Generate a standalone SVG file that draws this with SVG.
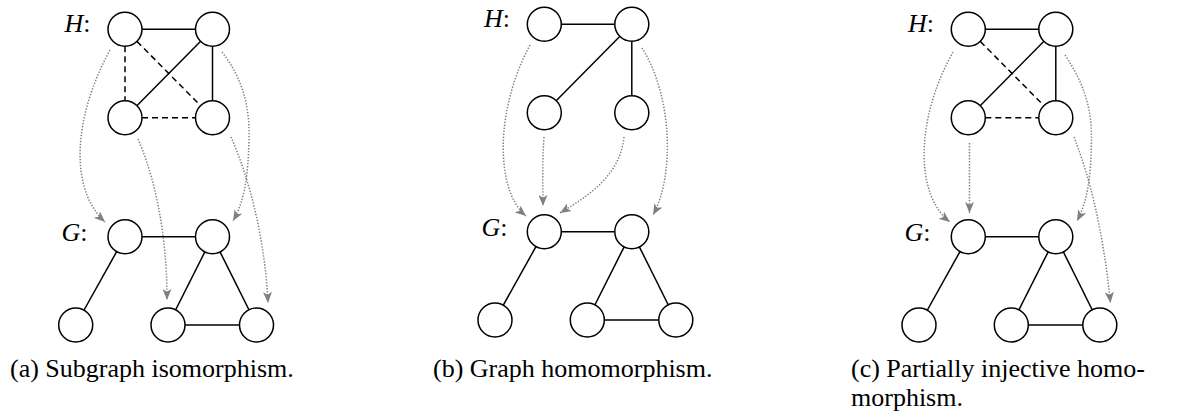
<svg xmlns="http://www.w3.org/2000/svg" width="1180" height="419" viewBox="0 0 1180 419">
<style>
.nd{fill:#fff;stroke:#000;stroke-width:1.5}
.e{stroke:#000;stroke-width:1.5;fill:none}
.d{stroke:#000;stroke-width:1.5;fill:none;stroke-dasharray:6 4}
.m{stroke:#808080;stroke-width:1.5;fill:none;stroke-dasharray:1.4 1.6}
</style>
<defs>
<marker id="ah" markerUnits="userSpaceOnUse" viewBox="0 0 11 9" refX="11" refY="4.5" markerWidth="11" markerHeight="9" orient="auto">
<path d="M0,0 L11,4.5 L0,9 L2.8,4.5 Z" fill="#808080"/>
</marker>
</defs>

<g id="connectors">
<!-- panel a edges -->
<line class="e" x1="125" y1="29.3" x2="212.5" y2="29.3"/>
<line class="e" x1="212.5" y1="29.3" x2="125" y2="117.7"/>
<line class="e" x1="212.5" y1="29.3" x2="212.5" y2="117.7"/>
<line class="d" x1="125" y1="46.3" x2="125" y2="100.7"/>
<line class="d" x1="137" y1="41.4" x2="200.5" y2="105.6"/>
<line class="d" x1="142" y1="117.7" x2="195.5" y2="117.7"/>
<line class="e" x1="125" y1="236.7" x2="212.5" y2="236.7"/>
<line class="e" x1="125" y1="236.7" x2="75.7" y2="325"/>
<line class="e" x1="212.5" y1="236.7" x2="168" y2="325"/>
<line class="e" x1="212.5" y1="236.7" x2="256.5" y2="325"/>
<line class="e" x1="168" y1="325" x2="256.5" y2="325"/>
<!-- panel a mappings -->
<path class="m" marker-end="url(#ah)" d="M110,50 C72,120 70,190 105,222"/>
<path class="m" marker-end="url(#ah)" d="M138,139 C160,190 167,250 167,300"/>
<path class="m" marker-end="url(#ah)" d="M222,52 C244,80 250,110 249,140 C248,175 245,200 233,221"/>
<path class="m" marker-end="url(#ah)" d="M231,137 C250,180 265,240 268,303"/>

<!-- panel b edges -->
<line class="e" x1="544.3" y1="24.3" x2="631.8" y2="24.3"/>
<line class="e" x1="631.8" y1="24.3" x2="544.3" y2="112.7"/>
<line class="e" x1="631.8" y1="24.3" x2="631.8" y2="112.7"/>
<line class="e" x1="544.3" y1="231.7" x2="631.8" y2="231.7"/>
<line class="e" x1="544.3" y1="231.7" x2="495" y2="320"/>
<line class="e" x1="631.8" y1="231.7" x2="587.3" y2="320"/>
<line class="e" x1="631.8" y1="231.7" x2="675.8" y2="320"/>
<line class="e" x1="587.3" y1="320" x2="675.8" y2="320"/>
<!-- panel b mappings -->
<path class="m" marker-end="url(#ah)" d="M530,45 C495,110 495,190 526,216"/>
<path class="m" marker-end="url(#ah)" d="M544,137 C542,165 543,185 543,206"/>
<path class="m" marker-end="url(#ah)" d="M624,137 C620,175 590,195 560,213"/>
<path class="m" marker-end="url(#ah)" d="M642,48 C672,95 675,175 653,215"/>

<!-- panel c edges -->
<line class="e" x1="968.3" y1="29.3" x2="1055.8" y2="29.3"/>
<line class="e" x1="1055.8" y1="29.3" x2="968.3" y2="117.7"/>
<line class="e" x1="1055.8" y1="29.3" x2="1055.8" y2="117.7"/>
<line class="d" x1="980.3" y1="41.4" x2="1043.8" y2="105.6"/>
<line class="d" x1="985.3" y1="117.7" x2="1038.8" y2="117.7"/>
<line class="e" x1="968.3" y1="236.7" x2="1055.8" y2="236.7"/>
<line class="e" x1="968.3" y1="236.7" x2="919" y2="325"/>
<line class="e" x1="1055.8" y1="236.7" x2="1011.3" y2="325"/>
<line class="e" x1="1055.8" y1="236.7" x2="1099.8" y2="325"/>
<line class="e" x1="1011.3" y1="325" x2="1099.8" y2="325"/>
<!-- panel c mappings -->
<path class="m" marker-end="url(#ah)" d="M953,52 C915,120 915,195 950,222"/>
<path class="m" marker-end="url(#ah)" d="M969.5,143 L969.5,213"/>
<path class="m" marker-end="url(#ah)" d="M1065,55 C1085,85 1092,110 1091.5,140 C1091,175 1088,200 1077,221"/>
<path class="m" marker-end="url(#ah)" d="M1074,137 C1090,178 1103,230 1110.5,303"/>
</g>

<!-- panel a nodes -->
<g id="a-h1"><circle class="nd" cx="125" cy="29.3" r="17"/></g>
<g id="a-h2"><circle class="nd" cx="212.5" cy="29.3" r="17"/></g>
<g id="a-h3"><circle class="nd" cx="125" cy="117.7" r="17"/></g>
<g id="a-h4"><circle class="nd" cx="212.5" cy="117.7" r="17"/></g>
<g id="a-g1"><circle class="nd" cx="125" cy="236.7" r="17"/></g>
<g id="a-g2"><circle class="nd" cx="212.5" cy="236.7" r="17"/></g>
<g id="a-g3"><circle class="nd" cx="75.7" cy="325" r="17"/></g>
<g id="a-g4"><circle class="nd" cx="168" cy="325" r="17"/></g>
<g id="a-g5"><circle class="nd" cx="256.5" cy="325" r="17"/></g>

<!-- panel b nodes -->
<g id="b-h1"><circle class="nd" cx="544.3" cy="24.3" r="17"/></g>
<g id="b-h2"><circle class="nd" cx="631.8" cy="24.3" r="17"/></g>
<g id="b-h3"><circle class="nd" cx="544.3" cy="112.7" r="17"/></g>
<g id="b-h4"><circle class="nd" cx="631.8" cy="112.7" r="17"/></g>
<g id="b-g1"><circle class="nd" cx="544.3" cy="231.7" r="17"/></g>
<g id="b-g2"><circle class="nd" cx="631.8" cy="231.7" r="17"/></g>
<g id="b-g3"><circle class="nd" cx="495" cy="320" r="17"/></g>
<g id="b-g4"><circle class="nd" cx="587.3" cy="320" r="17"/></g>
<g id="b-g5"><circle class="nd" cx="675.8" cy="320" r="17"/></g>

<!-- panel c nodes -->
<g id="c-h1"><circle class="nd" cx="968.3" cy="29.3" r="17"/></g>
<g id="c-h2"><circle class="nd" cx="1055.8" cy="29.3" r="17"/></g>
<g id="c-h3"><circle class="nd" cx="968.3" cy="117.7" r="17"/></g>
<g id="c-h4"><circle class="nd" cx="1055.8" cy="117.7" r="17"/></g>
<g id="c-g1"><circle class="nd" cx="968.3" cy="236.7" r="17"/></g>
<g id="c-g2"><circle class="nd" cx="1055.8" cy="236.7" r="17"/></g>
<g id="c-g3"><circle class="nd" cx="919" cy="325" r="17"/></g>
<g id="c-g4"><circle class="nd" cx="1011.3" cy="325" r="17"/></g>
<g id="c-g5"><circle class="nd" cx="1099.8" cy="325" r="17"/></g>

<g id="labels" font-family="Liberation Serif, Times New Roman, DejaVu Serif, serif" font-size="26" fill="#000" text-anchor="end">
<text x="90.5" y="32"><tspan font-style="italic">H</tspan>:</text>
<text x="87.5" y="240.5"><tspan font-style="italic">G</tspan>:</text>
<text x="510" y="27"><tspan font-style="italic">H</tspan>:</text>
<text x="507.5" y="235.5"><tspan font-style="italic">G</tspan>:</text>
<text x="934" y="32"><tspan font-style="italic">H</tspan>:</text>
<text x="930.5" y="240.5"><tspan font-style="italic">G</tspan>:</text>
</g>

<g id="captions" font-family="Liberation Serif, Times New Roman, DejaVu Serif, serif" font-size="26" fill="#000">
<text x="10" y="377">(a) Subgraph isomorphism.</text>
<text x="433" y="377">(b) Graph homomorphism.</text>
<text x="851" y="377">(c) Partially injective homo-</text>
<text x="851" y="406">morphism.</text>
</g>
</svg>
